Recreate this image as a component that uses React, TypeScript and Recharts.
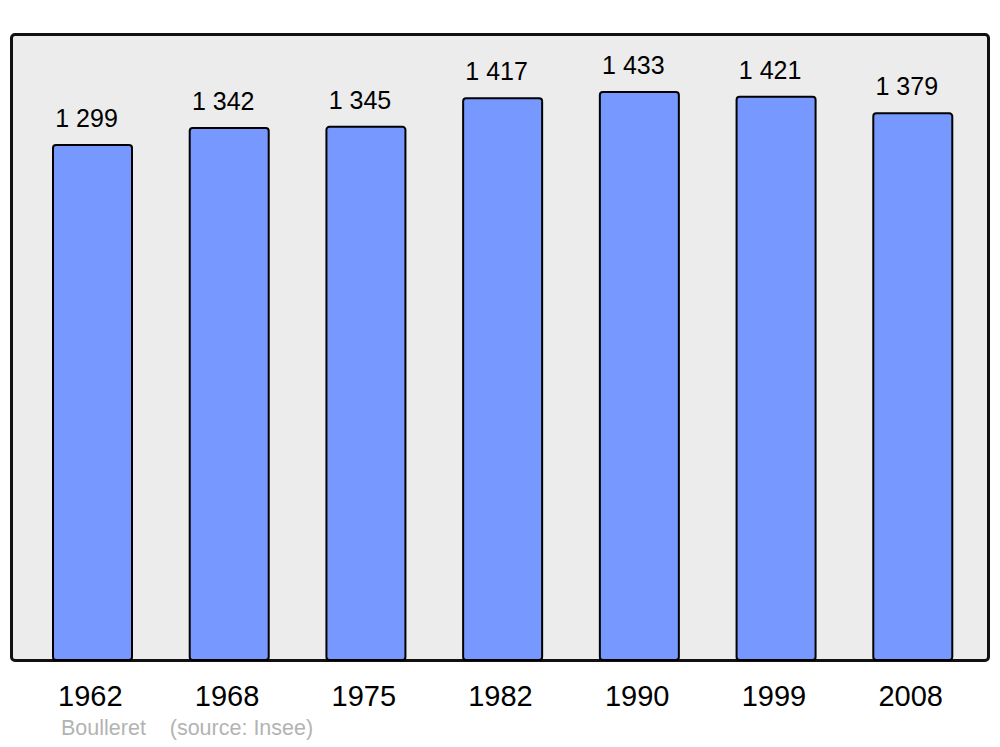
import { BarChart, Bar, XAxis, YAxis, LabelList } from "recharts";

const years = ["1962", "1968", "1975", "1982", "1990", "1999", "2008"];
const population = [1299, 1342, 1345, 1417, 1433, 1421, 1379];

const data = years.map((year, i) => ({ year, value: population[i] }));

const FONT = "'Liberation Sans', Arial, sans-serif";

const formatValue = (v: number) =>
  String(v).replace(/\B(?=(\d{3})+(?!\d))/g, " ");

const ValueLabel = (props: any) => {
  const { x, y, width, value } = props;
  return (
    <text
      x={x + width / 2 - 6}
      y={y - 18}
      textAnchor="middle"
      fontSize={25}
      fontFamily={FONT}
      fill="#000"
    >
      {formatValue(value)}
    </text>
  );
};

const App = () => {
  return (
    <div
      style={{
        position: "absolute",
        left: 0,
        top: 0,
        width: 1000,
        height: 747,
        background: "#fff",
        fontFamily: FONT,
      }}
    >
      <div
        style={{
          position: "absolute",
          left: 10,
          top: 33,
          width: 980,
          height: 629,
          boxSizing: "border-box",
          border: "3px solid #111",
          borderRadius: 5,
          background: "#ececec",
        }}
      />
      <div style={{ position: "absolute", left: 0, top: 0 }}>
        <BarChart
          width={1000}
          height={747}
          data={data}
          margin={{ top: 34, right: 19, bottom: 0, left: 24 }}
        >
          <YAxis hide domain={[0, 1579]} />
          <XAxis
            dataKey="year"
            axisLine={false}
            tickLine={false}
            tickSize={0}
            tickMargin={25}
            height={87}
            interval={0}
            tick={{ fontSize: 29, fill: "#000", fontFamily: FONT, dx: -2 }}
          />
          <Bar
            dataKey="value"
            fill="#7799ff"
            stroke="#000"
            strokeWidth={2}
            barSize={79}
            radius={3}
            isAnimationActive={false}
          >
            <LabelList dataKey="value" content={ValueLabel} />
          </Bar>
        </BarChart>
      </div>
      <div
        style={{
          position: "absolute",
          left: 61,
          top: 716,
          fontSize: 21.5,
          color: "#b3b3b3",
          whiteSpace: "pre",
        }}
      >
        {"Boulleret    (source: Insee)"}
      </div>
    </div>
  );
};

export default App;
